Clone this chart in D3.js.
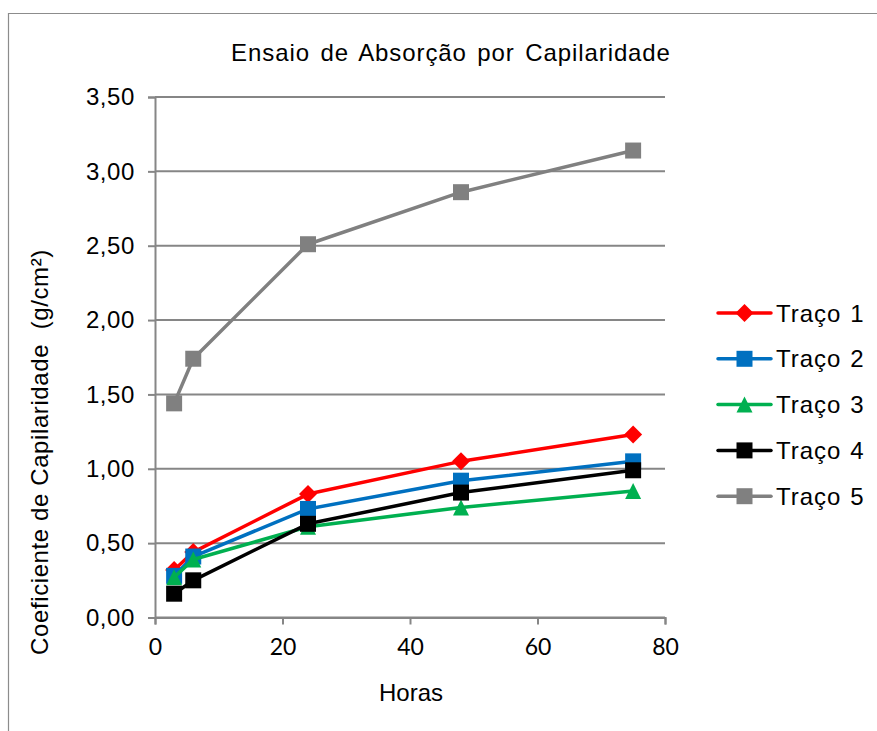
<!DOCTYPE html>
<html>
<head>
<meta charset="utf-8">
<script src="https://cdn.jsdelivr.net/npm/d3@7"></script>
<style>
  html, body { margin: 0; padding: 0; background: #ffffff; }
  svg { display: block; }
</style>
</head>
<body>
<script>
// Capillary absorption test: coefficient (g/cm²) over time (hours) for five mixes
const hours = [3, 6, 24, 48, 75];
const seriesNames = ["Traço 1", "Traço 2", "Traço 3", "Traço 4", "Traço 5"];
const traco1 = [0.32, 0.44, 0.83, 1.05, 1.23];
const traco2 = [0.28, 0.41, 0.73, 0.92, 1.05];
const traco3 = [0.27, 0.39, 0.61, 0.74, 0.85];
const traco4 = [0.16, 0.25, 0.63, 0.84, 0.99];
const traco5 = [1.44, 1.74, 2.51, 2.86, 3.14];
const seriesColors = ["#ff0000", "#0070c0", "#00b050", "#000000", "#808080"];
const seriesMarkers = ["diamond", "square", "triangle", "square", "square"];
const yTicks = [0, 0.5, 1, 1.5, 2, 2.5, 3, 3.5];
const xTicks = [0, 20, 40, 60, 80];

const series = [traco1, traco2, traco3, traco4, traco5].map((vals, i) => ({
  name: seriesNames[i],
  color: seriesColors[i],
  marker: seriesMarkers[i],
  points: vals.map((v, j) => ({ x: hours[j], y: v }))
}));

const W = 877, H = 731;
const svg = d3.select("body").append("svg").attr("width", W).attr("height", H);

// chart area frame
svg.append("path")
  .attr("d", `M8.5,${H + 2} L8.5,13.5 L${W + 2},13.5`)
  .attr("fill", "none").attr("stroke", "#8c8c8c").attr("stroke-width", 1.2);

const x = d3.scaleLinear().domain([0, 80]).range([155, 665]);
const y = d3.scaleLinear().domain([0, 3.5]).range([617.5, 97]);

const gridColor = "#868686";
const fmt = v => d3.format(".2f")(v).replace(".", ",");

// horizontal gridlines
svg.append("g").selectAll("line").data(yTicks).join("line")
  .attr("x1", x(0)).attr("x2", x(80))
  .attr("y1", d => y(d)).attr("y2", d => y(d))
  .attr("stroke", gridColor).attr("stroke-width", 2);

// y axis
const yAxis = svg.append("g").attr("transform", `translate(${x(0)},0)`)
  .call(d3.axisLeft(y).tickValues(yTicks).tickFormat(fmt).tickSize(7).tickPadding(13));
yAxis.select(".domain").attr("stroke", gridColor).attr("stroke-width", 2);
yAxis.selectAll(".tick line").attr("stroke", gridColor).attr("stroke-width", 2);
yAxis.selectAll(".tick text")
  .attr("font-family", "'Liberation Sans', Arial, sans-serif")
  .attr("font-size", 24).attr("letter-spacing", 0.6).attr("fill", "#000");

// x axis
const xAxis = svg.append("g").attr("transform", `translate(0,${y(0)})`)
  .call(d3.axisBottom(x).tickValues(xTicks).tickFormat(d3.format("d")).tickSize(7).tickPadding(14));
xAxis.select(".domain").attr("stroke", gridColor).attr("stroke-width", 2);
xAxis.selectAll(".tick line").attr("stroke", gridColor).attr("stroke-width", 2);
xAxis.selectAll(".tick text")
  .attr("font-family", "Lato, 'Open Sans', sans-serif")
  .attr("font-size", 23).attr("fill", "#000");

// titles
svg.append("text")
  .attr("x", 451).attr("y", 61)
  .attr("text-anchor", "middle")
  .attr("font-family", "'Liberation Sans', Arial, sans-serif")
  .attr("font-size", 24).attr("letter-spacing", 0.9).attr("word-spacing", 3)
  .text("Ensaio de Absorção por Capilaridade");

svg.append("text")
  .attr("x", 411).attr("y", 701)
  .attr("text-anchor", "middle")
  .attr("font-family", "'Liberation Sans', Arial, sans-serif")
  .attr("font-size", 24)
  .text("Horas");

svg.append("text")
  .attr("transform", `translate(48,452) rotate(-90)`)
  .attr("text-anchor", "middle")
  .attr("font-family", "'Liberation Sans', Arial, sans-serif")
  .attr("font-size", 24).attr("letter-spacing", 0.6).attr("xml:space", "preserve")
  .text("Coeficiente de Capilaridade  (g/cm²)");

// marker shapes
function markerPath(type, s) {
  const h = s / 2;
  if (type === "diamond") return `M0,${-h}L${h},0L0,${h}L${-h},0Z`;
  if (type === "triangle") return `M0,${-h}L${h},${h}L${-h},${h}Z`;
  return `M${-h},${-h}H${h}V${h}H${-h}Z`;
}
const markerSize = { diamond: 18, square: 16, triangle: 16 };

const line = d3.line().x(d => x(d.x)).y(d => y(d.y));

series.forEach(s => {
  const g = svg.append("g");
  g.append("path")
    .attr("d", line(s.points))
    .attr("fill", "none").attr("stroke", s.color)
    .attr("stroke-width", 3.5).attr("stroke-linejoin", "round");
  g.selectAll("path.m").data(s.points).join("path")
    .attr("class", "m")
    .attr("transform", d => `translate(${x(d.x)},${y(d.y)})`)
    .attr("d", markerPath(s.marker, markerSize[s.marker]))
    .attr("fill", s.color);
});

// legend
const legend = svg.append("g");
series.forEach((s, i) => {
  const ly = 313 + i * 45.8;
  legend.append("line")
    .attr("x1", 718).attr("x2", 771).attr("y1", ly).attr("y2", ly)
    .attr("stroke", s.color).attr("stroke-width", 3.5).attr("stroke-linecap", "round");
  legend.append("path")
    .attr("transform", `translate(744.5,${ly})`)
    .attr("d", markerPath(s.marker, markerSize[s.marker]))
    .attr("fill", s.color);
  legend.append("text")
    .attr("x", 776).attr("y", ly + 8.5)
    .attr("font-family", "'Liberation Sans', Arial, sans-serif")
    .attr("font-size", 24).attr("letter-spacing", 1).attr("word-spacing", 1)
    .text(s.name);
});
</script>
</body>
</html>
